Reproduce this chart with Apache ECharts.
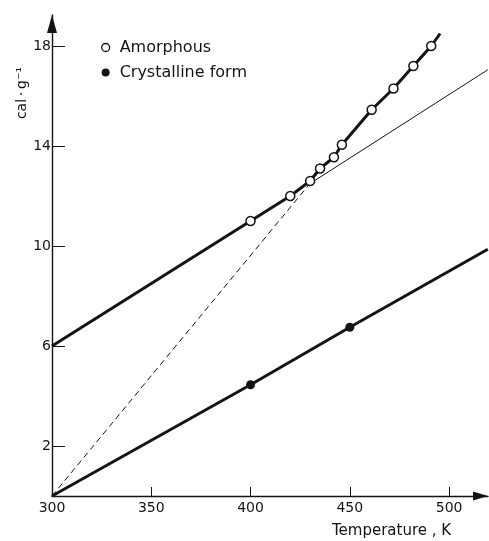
<!DOCTYPE html>
<html>
<head>
<meta charset="utf-8">
<script src="https://cdn.jsdelivr.net/npm/echarts@6/dist/echarts.min.js"></script>
<style>
  html, body { margin: 0; padding: 0; background: #fff; }
  #chart { width: 489px; height: 541px; }
</style>
</head>
<body>
<div id="chart"></div>
<script>
// Heat content (cal·g⁻¹) against temperature (K)
const amorphousT = [400, 420, 430, 435, 442, 446, 461, 472, 482, 491];
const amorphousH = [11.0, 12.0, 12.6, 13.1, 13.55, 14.05, 15.45, 16.3, 17.2, 18.0];

const crystalT = [400, 450];
const crystalH = [4.45, 6.75];

// traced curves
const glassCurveT = [300, 400, 420, 430, 435, 442, 446, 461, 472, 482, 491, 495.5];
const glassCurveH = [6.0, 11.0, 12.0, 12.6, 13.1, 13.55, 14.05, 15.45, 16.3, 17.2, 18.0, 18.5];
const glassExtT = [430, 519.5];
const glassExtH = [12.5, 17.05];
const liquidExtT = [300, 432];
const liquidExtH = [0, 12.7];
const crystalCurveT = [300, 400, 450, 519.5];
const crystalCurveH = [0, 4.45, 6.75, 9.87];

const xLabels = [300, 350, 400, 450, 500];
const xTicks = [350, 400, 450, 500];
const yLabels = [2, 6, 10, 14, 18];

const zip = (a, b) => a.map((v, i) => [v, b[i]]);
const ink = '#141414';
const font = 'DejaVu Sans';

const chart = echarts.init(document.getElementById('chart'), null, { renderer: 'canvas' });
chart.setOption({
  animation: false,
  backgroundColor: '#fff',
  grid: { left: 52, right: 1, top: 15, bottom: 45, containLabel: false },
  legend: {
    left: 96, top: 34, orient: 'vertical', itemGap: 8,
    itemWidth: 8, itemHeight: 8,
    textStyle: { fontFamily: font, fontSize: 16, color: ink, lineHeight: 17, padding: [0, 0, 0, 5] },
    data: [
      { name: 'Amorphous', icon: 'circle', itemStyle: { color: '#fff', borderColor: ink, borderWidth: 1.3 } },
      { name: 'Crystalline form', icon: 'circle', itemStyle: { color: ink, borderWidth: 0 } }
    ]
  },
  xAxis: {
    type: 'value', min: 300, max: 519.6,
    axisLine: { show: true, lineStyle: { color: ink, width: 1.4 }, symbol: ['none', 'triangle'],
      symbolSize: [9, 15], symbolOffset: [0, -7.5] },
    axisTick: { show: true, inside: true, length: 9, customValues: xTicks, lineStyle: { color: ink, width: 1 } },
    axisLabel: { customValues: xLabels, fontFamily: font, fontSize: 14, color: ink, margin: 5 },
    splitLine: { show: false }
  },
  yAxis: {
    type: 'value', min: 0, max: 19.24,
    axisLine: { show: true, lineStyle: { color: ink, width: 1.4 }, symbol: ['none', 'triangle'],
      symbolSize: [10, 18], symbolOffset: [0, -9] },
    axisTick: { show: true, inside: true, length: 13, customValues: yLabels, lineStyle: { color: ink, width: 1 } },
    axisLabel: { customValues: yLabels, fontFamily: font, fontSize: 14, color: ink, margin: 1 },
    splitLine: { show: false }
  },
  graphic: [
    { type: 'text', left: 15, top: 67, rotation: Math.PI / 2,
      style: { text: 'cal\u2009·\u2009g⁻¹', font: '14px "DejaVu Sans"', fill: ink } },
    { type: 'text', left: 332, top: 524,
      style: { text: 'Temperature , K', font: '15px "DejaVu Sans"', fill: ink } }
  ],
  series: [
    { name: 'glass', type: 'line', data: zip(glassCurveT, glassCurveH), showSymbol: false, symbol: 'none',
      lineStyle: { color: ink, width: 3 }, clip: false, z: 2 },
    { name: 'glassExt', type: 'line', data: zip(glassExtT, glassExtH), symbol: 'none',
      lineStyle: { color: ink, width: 1 }, clip: false, z: 1 },
    { name: 'liquidExt', type: 'line', data: zip(liquidExtT, liquidExtH), symbol: 'none',
      lineStyle: { color: ink, width: 1, type: [6, 4] }, clip: false, z: 1 },
    { name: 'crystal', type: 'line', data: zip(crystalCurveT, crystalCurveH), symbol: 'none',
      lineStyle: { color: ink, width: 3 }, clip: false, z: 2 },
    { name: 'Amorphous', type: 'scatter', data: zip(amorphousT, amorphousH), symbol: 'circle', symbolSize: 9,
      itemStyle: { color: '#fff', borderColor: ink, borderWidth: 1.5, opacity: 1 }, z: 5 },
    { name: 'Crystalline form', type: 'scatter', data: zip(crystalT, crystalH), symbol: 'circle', symbolSize: 9,
      itemStyle: { color: ink, opacity: 1 }, z: 5 }
  ]
});
</script>
</body>
</html>
